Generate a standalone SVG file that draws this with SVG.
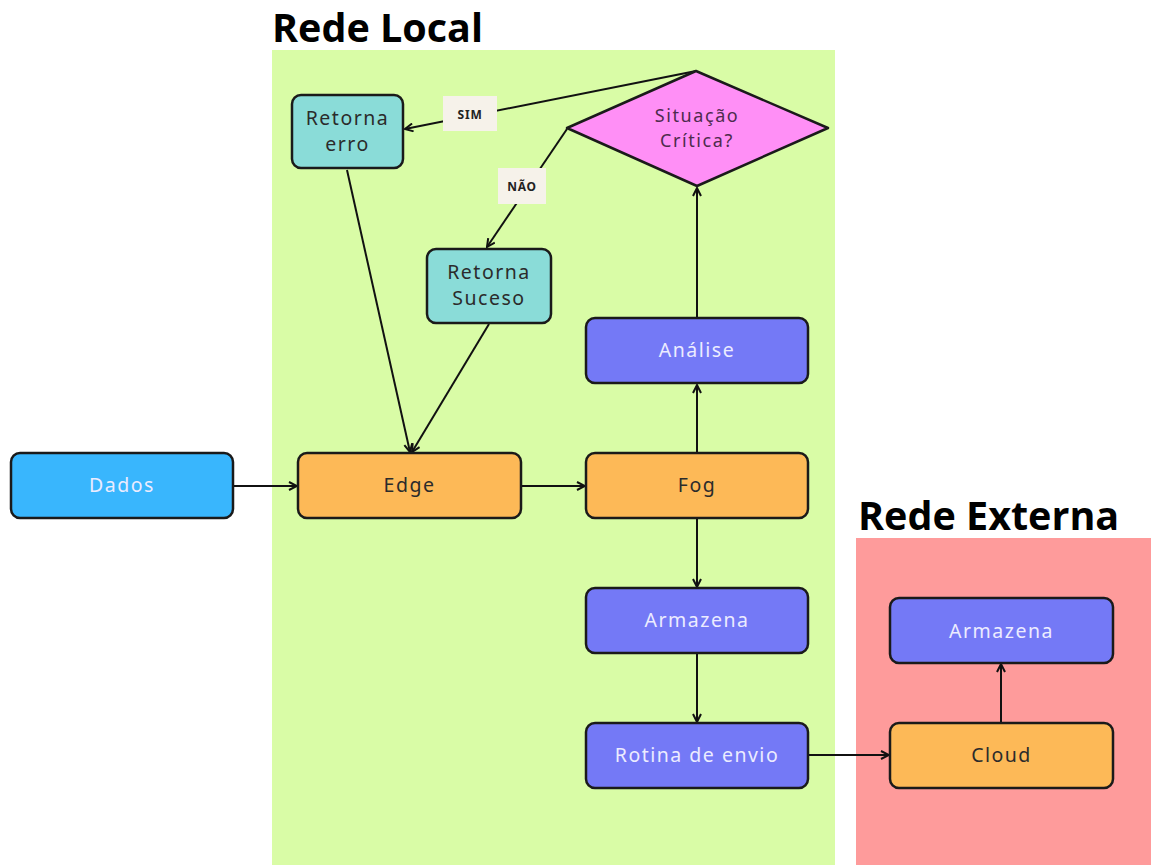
<svg xmlns="http://www.w3.org/2000/svg" width="1151" height="865" viewBox="0 0 1151 865">
  <style>
    .title { font-family: "Open Sans", "Noto Sans", sans-serif; font-weight: 700; font-size: 39.5px; fill: #000; }
    .lbl { font-family: "Noto Sans", "Liberation Sans", sans-serif; font-size: 19.5px; letter-spacing: 1.5px; text-anchor: middle; dominant-baseline: central; }
    .small { font-size: 18px; letter-spacing: 1.6px; }
    .dark { fill: #2b2b2b; }
    .plum { fill: #4d2b4d; }
    .light { fill: #ececff; }
    .box { stroke: #1a1a1a; stroke-width: 2.5; }
    .teal { fill: #8adcd8; }
    .blue { fill: #39b6fd; }
    .orange { fill: #fdb957; }
    .purple { fill: #7479f6; }
    .pink { fill: #ff8ff6; }
    .edge { stroke: #111; stroke-width: 2; fill: none; marker-end: url(#arr); }
    .tag { fill: #f6f2ea; }
    .tagtxt { font-family: "Noto Sans", "Liberation Sans", sans-serif; font-weight: 700; font-size: 12px; letter-spacing: 0.8px; text-anchor: middle; dominant-baseline: central; fill: #222; }
  </style>
  <defs>
    <marker id="arr" viewBox="0 0 10 10" refX="9" refY="5" markerWidth="10" markerHeight="10" markerUnits="userSpaceOnUse" orient="auto">
      <path d="M1,1 L9,5 L1,9" fill="none" stroke="#111" stroke-width="2"/>
    </marker>
  </defs>

  <rect width="1151" height="865" fill="#ffffff"/>

  <!-- network zones -->
  <g id="zone-local">
    <rect x="272" y="50" width="563" height="815" fill="#d9fca6"/>
    <text class="title" x="272" y="42">Rede Local</text>
  </g>
  <g id="zone-externa">
    <rect x="856" y="538" width="295" height="327" fill="#fe9b9b"/>
    <text class="title" x="858" y="530">Rede Externa</text>
  </g>

  <!-- connectors -->
  <g id="connectors">
    <line class="edge" x1="696" y1="71" x2="405" y2="129"/>
    <line class="edge" x1="567" y1="129" x2="487" y2="247"/>
    <line class="edge" x1="347" y1="170" x2="410" y2="452"/>
    <line class="edge" x1="489" y1="324" x2="412" y2="452"/>
    <line class="edge" x1="234" y1="486" x2="297" y2="486"/>
    <line class="edge" x1="521" y1="486" x2="585" y2="486"/>
    <line class="edge" x1="697" y1="453" x2="697" y2="385"/>
    <line class="edge" x1="697" y1="318" x2="697" y2="188"/>
    <line class="edge" x1="697" y1="518" x2="697" y2="587"/>
    <line class="edge" x1="697" y1="653" x2="697" y2="722"/>
    <line class="edge" x1="808" y1="755" x2="889" y2="755"/>
    <line class="edge" x1="1001" y1="723" x2="1001" y2="664"/>
    <g id="label-sim">
      <rect class="tag" x="443" y="96" width="54" height="35"/>
      <text class="tagtxt" x="470" y="114">SIM</text>
    </g>
    <g id="label-nao">
      <rect class="tag" x="498" y="168" width="48" height="36"/>
      <text class="tagtxt" x="522" y="186">NÃO</text>
    </g>
  </g>

  <!-- nodes -->
  <g id="retorna-erro">
    <rect class="box teal" x="292" y="95" width="111" height="73" rx="9"/>
    <text class="lbl dark" x="347.5" y="117">Retorna</text>
    <text class="lbl dark" x="347.5" y="143">erro</text>
  </g>
  <g id="situacao-critica">
    <path class="box pink" d="M567,128 L696,71 L828,128 L697,186 Z" stroke-linejoin="round"/>
    <text class="lbl small plum" x="697" y="115">Situação</text>
    <text class="lbl small plum" x="697" y="140">Crítica?</text>
  </g>
  <g id="retorna-sucesso">
    <rect class="box teal" x="427" y="249" width="124" height="74" rx="9"/>
    <text class="lbl dark" x="489" y="271">Retorna</text>
    <text class="lbl dark" x="489" y="297">Suceso</text>
  </g>
  <g id="analise">
    <rect class="box purple" x="586" y="318" width="222" height="65" rx="9"/>
    <text class="lbl light" x="697" y="349">Análise</text>
  </g>
  <g id="dados">
    <rect class="box blue" x="11" y="453" width="222" height="65" rx="9"/>
    <text class="lbl light" x="122" y="484">Dados</text>
  </g>
  <g id="edge">
    <rect class="box orange" x="298" y="453" width="223" height="65" rx="9"/>
    <text class="lbl dark" x="409.5" y="484">Edge</text>
  </g>
  <g id="fog">
    <rect class="box orange" x="586" y="453" width="222" height="65" rx="9"/>
    <text class="lbl dark" x="697" y="484">Fog</text>
  </g>
  <g id="armazena-local">
    <rect class="box purple" x="586" y="588" width="222" height="65" rx="9"/>
    <text class="lbl light" x="697" y="619">Armazena</text>
  </g>
  <g id="rotina-envio">
    <rect class="box purple" x="586" y="723" width="222" height="65" rx="9"/>
    <text class="lbl light" x="697" y="754">Rotina de envio</text>
  </g>
  <g id="armazena-externo">
    <rect class="box purple" x="890" y="598" width="223" height="65" rx="9"/>
    <text class="lbl light" x="1001.5" y="630">Armazena</text>
  </g>
  <g id="cloud">
    <rect class="box orange" x="890" y="723" width="223" height="65" rx="9"/>
    <text class="lbl dark" x="1001.5" y="754">Cloud</text>
  </g>
</svg>
